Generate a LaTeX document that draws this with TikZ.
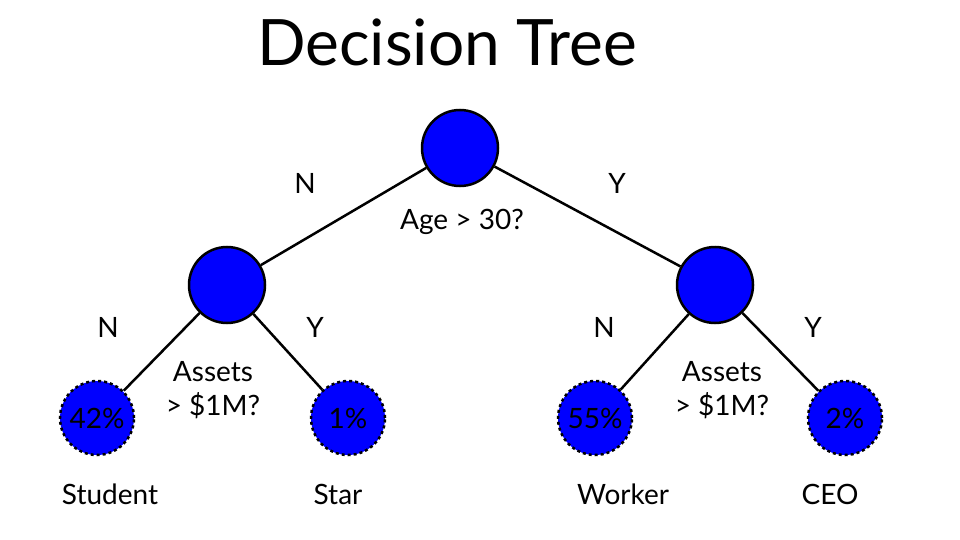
\documentclass[tikz,border=0pt]{standalone}
\usepackage{fontspec}
\setmainfont{Lato}
\begin{document}
\begin{tikzpicture}[x=1pt,y=-1pt,
  inner/.style={circle,draw=black,line width=2.5pt,fill=blue,minimum size=76pt,inner sep=0pt},
  leaf/.style={circle,draw=black,line width=2.5pt,dashed,fill=blue,minimum size=74pt,inner sep=0pt,font=\fontsize{28}{30}\selectfont},
  lbl/.style={font=\fontsize{28}{34}\selectfont,align=center},
  edge/.style={line width=2.5pt}]
\useasboundingbox (0,0) rectangle (960,540);
\node[font=\fontsize{64}{70}\selectfont] (title) at (447,42) {Decision Tree};
\node[inner] (r) at (460,148) {};
\node[inner] (a) at (227,285) {};
\node[inner] (b) at (715,285) {};
\node[leaf] (l1) at (97,418) {42\%};
\node[leaf] (l2) at (348,418) {1\%};
\node[leaf] (l3) at (595,418) {55\%};
\node[leaf] (l4) at (845,418) {2\%};
\draw[edge] (r) -- (a);
\draw[edge] (r) -- (b);
\draw[edge] (a) -- (l1);
\draw[edge] (a) -- (l2);
\draw[edge] (b) -- (l3);
\draw[edge] (b) -- (l4);
\node[lbl] (n0) at (305,183) {N};
\node[lbl] (y0) at (617,183) {Y};
\node[lbl] (q0) at (462,222) {Age > 30?};
\node[lbl] (n1) at (108,327) {N};
\node[lbl] (y1) at (315,327) {Y};
\node[lbl] (q1) at (213,390) {Assets\\> \$1M?};
\node[lbl] (n2) at (604,327) {N};
\node[lbl] (y2) at (813,327) {Y};
\node[lbl] (q2) at (722,390) {Assets\\> \$1M?};
\node[lbl] (s1) at (110,494) {Student};
\node[lbl] (s2) at (338,494) {Star};
\node[lbl] (s3) at (623,494) {Worker};
\node[lbl] (s4) at (830,494) {CEO};
\end{tikzpicture}
\end{document}
